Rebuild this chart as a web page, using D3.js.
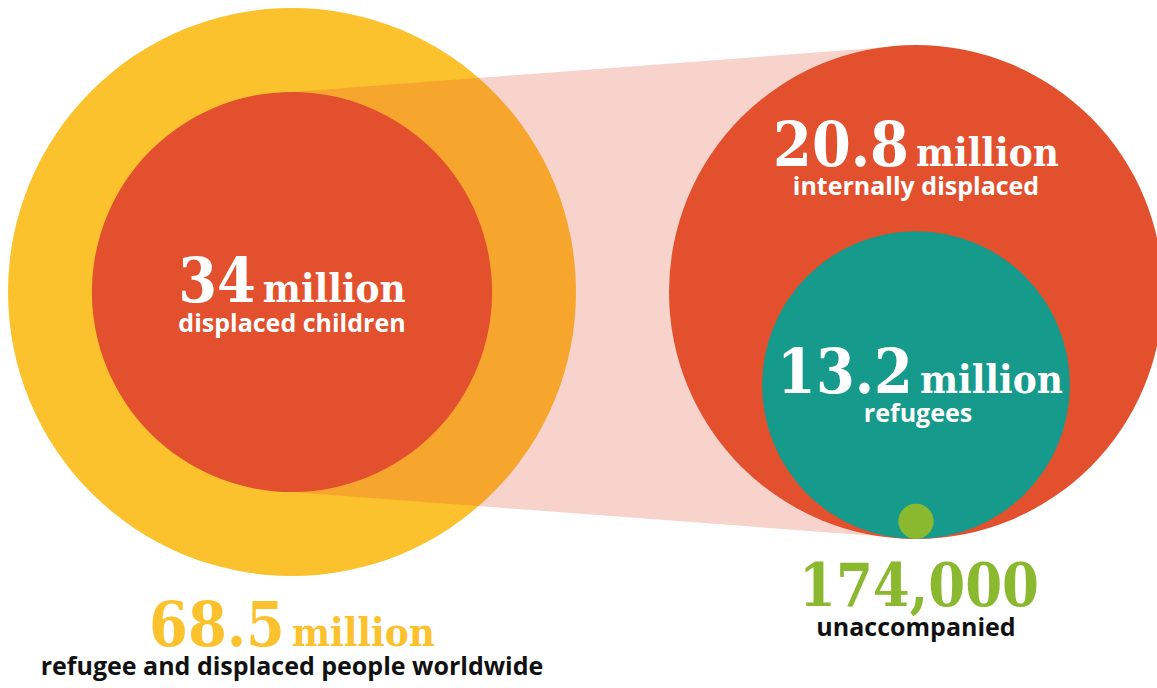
<!DOCTYPE html>
<html>
<head>
<meta charset="utf-8">
<script src="https://cdn.jsdelivr.net/npm/d3@7"></script>
<style>
  html, body { margin: 0; padding: 0; background: #ffffff; }
  svg { display: block; }
</style>
</head>
<body>
<svg id="chart" width="1157" height="688"></svg>
<script>
// ---- data ----
const leftCategories = ["refugee and displaced people worldwide", "displaced children"];
const leftValues = [68.5, 34];              // millions
const rightCategories = ["displaced children", "refugees", "unaccompanied"];
const rightValues = [34, 13.2, 0.174];      // millions
const labelNumbers = ["68.5", "34", "20.8", "13.2", "174,000"];
const labelUnits = ["million", "million", "million", "million", ""];
const labelTexts = ["refugee and displaced people worldwide", "displaced children",
                    "internally displaced", "refugees", "unaccompanied"];

// ---- styles ----
const YELLOW = "#FCC22D", RED = "#E3502E", TEAL = "#159A8C", GREEN = "#8AB82E";
const NUM_FONT = "'DejaVu Serif Condensed', 'DejaVu Serif', serif";
const SUB_FONT = "'Open Sans', Lato, sans-serif";
const SUB_SIZE = 25;

const svg = d3.select("#chart");

const leftC = { x: 292, y: 292 };
const rightC = { x: 916, y: 292 };

const rLeft = d3.scaleSqrt().domain([0, leftValues[0]]).range([0, 284]);
const rRight = d3.scaleSqrt().domain([0, rightValues[0]]).range([0, 247]);

const Rbig = rLeft(leftValues[0]);
const rIn = rLeft(leftValues[1]);
const Rr = rRight(rightValues[0]);

// outer yellow circle
svg.append("circle").attr("cx", leftC.x).attr("cy", leftC.y).attr("r", Rbig).attr("fill", YELLOW);

// connector (zoom beam)
const beam = [
  [leftC.x, leftC.y - rIn],
  [rightC.x, rightC.y - Rr],
  [rightC.x, rightC.y + Rr],
  [leftC.x, leftC.y + rIn]
];
svg.append("path")
  .attr("d", d3.line()(beam) + "Z")
  .attr("fill", RED).attr("fill-opacity", 0.25);

// inner left red
svg.append("circle").attr("cx", leftC.x).attr("cy", leftC.y).attr("r", rIn).attr("fill", RED);

// right circles, nested and tangent at bottom
const rightColors = [RED, TEAL, GREEN];
const bottomY = rightC.y + Rr;
svg.selectAll("circle.right").data(rightValues).join("circle")
  .attr("class", "right")
  .attr("cx", rightC.x)
  .attr("cy", d => bottomY - rRight(d))
  .attr("r", d => rRight(d))
  .attr("fill", (d, i) => rightColors[i]);

// ---- labels ----
function bigLabel(x, y, num, unit, color, numSize, unitSize) {
  const t = svg.append("text")
    .attr("x", x).attr("y", y)
    .attr("text-anchor", "middle")
    .attr("fill", color)
    .attr("font-family", NUM_FONT)
    .attr("font-weight", 700);
  t.append("tspan").attr("font-size", numSize).text(num);
  if (unit) t.append("tspan").attr("font-size", unitSize).attr("dx", 7).text(unit);
  return t;
}
function subLabel(x, y, text, color) {
  return svg.append("text")
    .attr("x", x).attr("y", y)
    .attr("text-anchor", "middle")
    .attr("fill", color)
    .attr("font-family", SUB_FONT)
    .attr("font-weight", 700)
    .attr("font-size", SUB_SIZE)
    .text(text);
}

// left inner
bigLabel(leftC.x, leftC.y + 10, labelNumbers[1], labelUnits[1], "#ffffff", 62, 40);
subLabel(leftC.x, leftC.y + 40, labelTexts[1], "#ffffff");

// left outer (below)
bigLabel(leftC.x, leftC.y + Rbig + 70, labelNumbers[0], labelUnits[0], YELLOW, 62, 40);
subLabel(leftC.x, leftC.y + Rbig + 99, labelTexts[0], "#111111");

// right red (internally displaced)
bigLabel(rightC.x, rightC.y - 126, labelNumbers[2], labelUnits[2], "#ffffff", 62, 40);
subLabel(rightC.x, rightC.y - 97, labelTexts[2], "#ffffff");

// teal
const tealCy = bottomY - rRight(rightValues[1]);
bigLabel(rightC.x + 4, tealCy + 8, labelNumbers[3], labelUnits[3], "#ffffff", 62, 40);
subLabel(rightC.x + 2, tealCy + 37, labelTexts[3], "#ffffff");

// green
bigLabel(rightC.x + 3, bottomY + 67, labelNumbers[4], labelUnits[4], GREEN, 59, 40);
subLabel(rightC.x, bottomY + 97, labelTexts[4], "#111111");
</script>
</body>
</html>
